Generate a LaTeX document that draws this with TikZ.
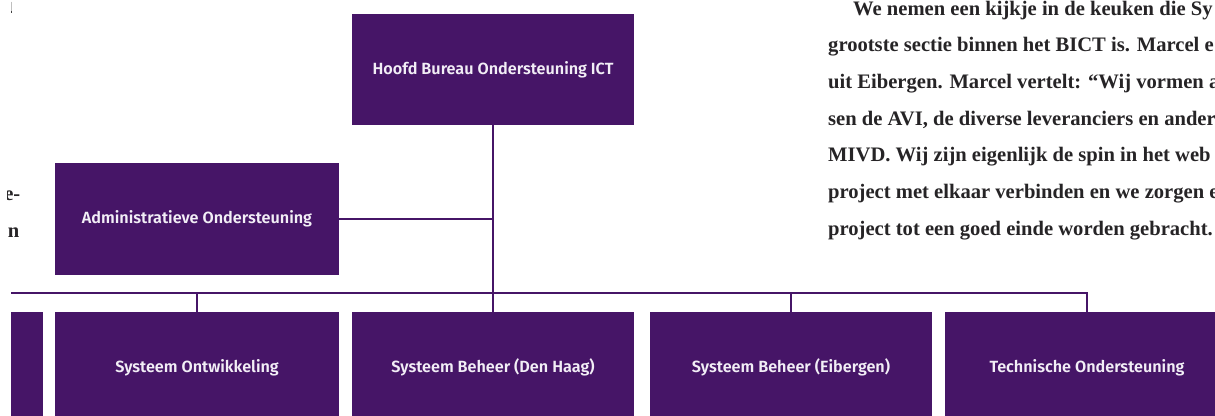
\documentclass[tikz,border=0pt]{standalone}
\usepackage{fontspec}
\setmainfont{Liberation Serif}
\newfontfamily\boxfont{Fira Sans SemiBold}
\definecolor{orgpurple}{RGB}{70,21,103}
\definecolor{orglabel}{RGB}{242,238,246}
\definecolor{bodyink}{RGB}{38,36,38}
\begin{document}
\begin{tikzpicture}[x=1pt,y=-1pt,
  unit/.style={fill=orgpurple, draw=none, inner sep=0pt, text=orglabel,
    font=\boxfont\fontsize{16.2}{19}\selectfont},
  link/.style={draw=orgpurple, line width=2.6pt},
  body/.style={anchor=base west, inner sep=0pt, text=bodyink,
    font=\bfseries\fontsize{20.6}{24}\selectfont}]
\useasboundingbox (0,0) rectangle (1215,415);

% small mark in the corner
\draw[black!25, line width=0.6pt] (11.7,1.5) -- (11.7,11.5);
\fill[black!75] (11.1,11.4) rectangle (12.4,12.9);

% head of the department
\node[unit, minimum width=282pt, minimum height=111pt] (top) at (493,69.5)
  {Hoofd Bureau Ondersteuning ICT};
% staff unit
\node[unit, minimum width=284pt, minimum height=112pt] (admin) at (197,219)
  {Administratieve Ondersteuning};
% sections
\node[unit, minimum width=32pt, minimum height=111pt] (box0) at (27,367.5) {};
\node[unit, minimum width=284pt, minimum height=111pt] (so) at (197,367.5)
  {Systeem Ontwikkeling};
\node[unit, minimum width=282pt, minimum height=111pt] (sbdh) at (493,367.5)
  {Systeem Beheer (Den Haag)};
\node[unit, minimum width=282pt, minimum height=111pt] (sbe) at (791,367.5)
  {Systeem Beheer (Eibergen)};
\node[unit, minimum width=284pt, minimum height=111pt] (to) at (1087,367.5)
  {Technische Ondersteuning};

% connectors
\coordinate (busL) at (11,293);
\draw[link] (top.south) -- (sbdh.north);
\draw[link] (admin.east) -- (admin.east -| top.south);
\draw[link] (busL) -- (busL -| to.north) -- (to.north);
\draw[link] (so.north) -- (so.north |- busL);
\draw[link] (sbe.north) -- (sbe.north |- busL);

% column of running text on the left
\begin{scope}
  \clip (7,175) rectangle (40,250);
  \node[body, anchor=base east] (l1) at (20.5,200) {e-};
  \node[body, anchor=base east] (l2) at (19.5,237) {n};
\end{scope}

% column of running text on the right
\node[body] (t1) at (853,15)    {We nemen een kijkje in de keuken die Sy};
\node[body] (t2) at (828,51.7)  {grootste sectie binnen het BICT is. Marcel e};
\node[body] (t3) at (828,88.3)  {uit Eibergen. Marcel vertelt: “Wij vormen als};
\node[body] (t4) at (828,125)   {sen de AVI, de diverse leveranciers en ander};
\node[body] (t5) at (828,161.7) {MIVD. Wij zijn eigenlijk de spin in het web};
\node[body] (t6) at (828,198.3) {project met elkaar verbinden en we zorgen e};
\node[body] (t7) at (828,235)   {project tot een goed einde worden gebracht.};
\end{tikzpicture}
\end{document}
